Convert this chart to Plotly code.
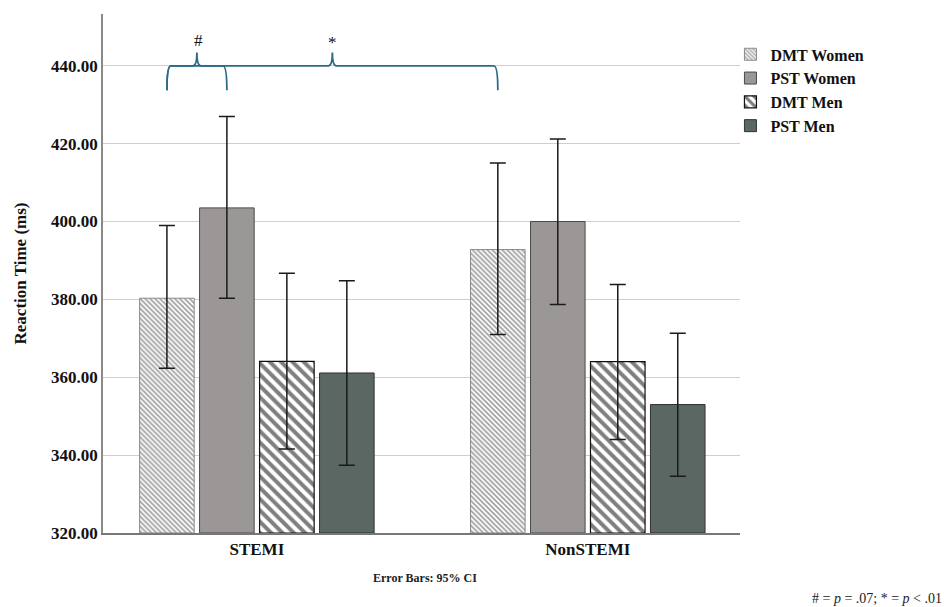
import plotly.graph_objects as go

categories = ["STEMI", "NonSTEMI"]
series_names = ["DMT Women", "PST Women", "DMT Men", "PST Men"]
means = {
    "DMT Women": [380.3, 392.8],
    "PST Women": [403.5, 400.0],
    "DMT Men": [364.1, 364.0],
    "PST Men": [361.1, 353.0],
}
ci_upper = {
    "DMT Women": [399.0, 415.0],
    "PST Women": [427.0, 421.2],
    "DMT Men": [386.7, 383.8],
    "PST Men": [384.8, 371.3],
}
ci_lower = {
    "DMT Women": [362.3, 371.0],
    "PST Women": [380.3, 378.7],
    "DMT Men": [341.6, 344.0],
    "PST Men": [337.4, 334.6],
}
y_ticks = [320, 340, 360, 380, 400, 420, 440]

SERIF = "Liberation Serif, Times New Roman, serif"
BRACE = "#2c6a86"

styles = {
    "DMT Women": dict(color="white", line=dict(color="#8a8a8a", width=1),
                      pattern=dict(shape="\\", fgcolor="#444444", bgcolor="white", size=3.5, solidity=0.5)),
    "PST Women": dict(color="#9b9797", line=dict(color="#4a4a4a", width=1)),
    "DMT Men": dict(color="white", line=dict(color="#111111", width=1.2),
                    pattern=dict(shape="\\", fgcolor="#000000", bgcolor="white", size=8, solidity=0.5)),
    "PST Men": dict(color="#5b6762", line=dict(color="#333333", width=1)),
}

xpos = list(range(len(categories)))
BARGAP = 0.275
GROUPGAP = 0.09

fig = go.Figure()
for name in series_names:
    m = means[name]
    fig.add_trace(go.Bar(
        name=f"<b>{name}</b>", x=xpos, y=[v - 320 for v in m], base=320,
        marker=styles[name],
        error_y=dict(type="data", symmetric=False,
                     array=[u - v for u, v in zip(ci_upper[name], m)],
                     arrayminus=[v - l for l, v in zip(ci_lower[name], m)],
                     color="#1a1a1a", thickness=1.5, width=8),
        hoverinfo="skip",
    ))

# bar centre positions derived from group layout
slot = (1 - BARGAP) / len(series_names)
def center(cat_idx, ser_idx):
    return cat_idx - (1 - BARGAP) / 2 + slot * (ser_idx + 0.5)

def brace(xa, xb, y=440.0, drop=6.3, rise=3.4):
    mid = (xa + xb) / 2
    r = 0.012
    return (f"M {xa},{y - drop} Q {xa},{y} {xa + r},{y} L {mid - r},{y} "
            f"Q {mid},{y} {mid},{y + rise} Q {mid},{y} {mid + r},{y} "
            f"L {xb - r},{y} Q {xb},{y} {xb},{y - drop}")

x_a = center(0, 0)
x_b = center(0, 1)
x_c = center(1, 0)
fig.add_shape(type="path", path=brace(x_a, x_c), xref="x", yref="y",
              line=dict(color=BRACE, width=1.8))
fig.add_shape(type="path", path=brace(x_a, x_b), xref="x", yref="y",
              line=dict(color=BRACE, width=1.8))
fig.add_annotation(x=(x_a + x_b) / 2 + 0.005, y=443.6, text="#", showarrow=False,
                   xref="x", yref="y", yanchor="bottom",
                   font=dict(family=SERIF, size=17, color="#111"))
fig.add_annotation(x=(x_a + x_c) / 2, y=443.0, text="*", showarrow=False,
                   xref="x", yref="y", yanchor="bottom",
                   font=dict(family=SERIF, size=17, color="#111"))

fig.add_annotation(x=0.505, y=-0.105, xref="paper", yref="paper",
                   text="<b>Error Bars: 95% CI</b>", showarrow=False,
                   font=dict(family=SERIF, size=12, color="#222"))
fig.add_annotation(x=1.32, y=-0.145, xref="paper", yref="paper", xanchor="right",
                   text="# = <i>p</i> = .07; * = <i>p</i> &lt; .01", showarrow=False,
                   font=dict(family=SERIF, size=14, color="#222"))

fig.update_layout(
    width=945, height=607,
    margin=dict(l=103, r=205, t=14, b=74),
    paper_bgcolor="white", plot_bgcolor="white",
    barmode="group", bargap=BARGAP, bargroupgap=GROUPGAP,
    font=dict(family=SERIF, color="#111"),
    showlegend=True,
    legend=dict(x=0.985, y=0.955, xanchor="left", yanchor="top",
                font=dict(family=SERIF, size=16, color="#111"),
                itemwidth=30, tracegroupgap=0, bgcolor="rgba(0,0,0,0)",
                traceorder="normal"),
    xaxis=dict(range=[-0.465, 1.46], tickvals=xpos,
               ticktext=[f"<b>{c}</b>" for c in categories],
               showgrid=False, zeroline=False, showline=True,
               linecolor="#777", linewidth=1.5, ticks="",
               tickfont=dict(family=SERIF, size=17, color="#111")),
    yaxis=dict(range=[320, 453.3], tickvals=y_ticks,
               ticktext=[f"<b>{v:.2f}</b>" for v in y_ticks],
               showgrid=True, gridcolor="#cfcfcf", gridwidth=1,
               zeroline=False, showline=True, linecolor="#8a8a8a", linewidth=1.5,
               ticks="", tickfont=dict(family=SERIF, size=17, color="#111"),
               title=dict(text="<b>Reaction Time (ms)</b>", standoff=20,
                          font=dict(family=SERIF, size=17, color="#111"))),
)

fig.write_html("out.html")
